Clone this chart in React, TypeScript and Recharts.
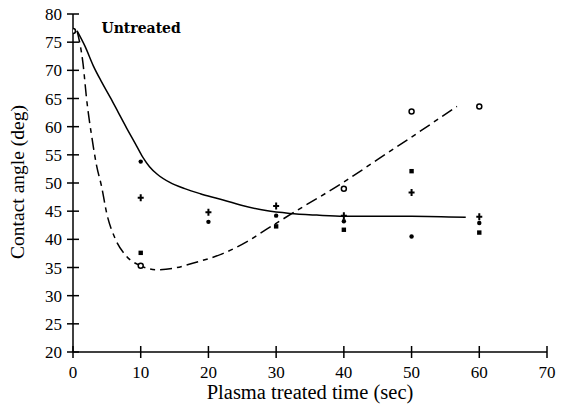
import { ComposedChart, Line, Scatter, XAxis, YAxis, ReferenceDot, Label } from "recharts";

// measured points
const openT = [0, 10, 40, 50, 60];
const openV = [77, 35.3, 49.0, 62.7, 63.6];
const dotT = [10, 20, 30, 40, 50, 60];
const dotV = [53.8, 43.1, 44.2, 43.2, 40.5, 42.9];
const plusT = [10, 20, 30, 40, 50, 60];
const plusV = [47.4, 44.8, 45.9, 44.2, 48.3, 44.0];
const squareT = [10, 30, 40, 50, 60];
const squareV = [37.6, 42.3, 41.7, 52.1, 41.2];

// fitted curves
const solidT = [0.6, 1.8, 3, 4.2, 5.5, 6.7, 7.9, 9.2, 10.3, 11.3, 12.4, 14.3, 16.5, 18.8, 21.5, 25, 28.5, 32, 36, 40, 45, 50, 58];
const solidV = [77, 74.2, 70.8, 68, 65.2, 62.5, 59.8, 57, 54.6, 52.9, 51.6, 50.1, 49, 48.1, 47.2, 46, 45.1, 44.6, 44.3, 44.1, 44.1, 44.1, 43.9];
const dashT = [0.6, 1.5, 2, 2.8, 3.5, 4.2, 5, 6.2, 7.9, 10, 12.4, 15, 17.8, 22.2, 25.7, 28.6, 34, 39.4, 44.9, 49.8, 56.7];
const dashV = [77, 71, 65, 58, 53, 49.5, 44.5, 40.2, 37, 35.3, 34.6, 34.9, 35.8, 37.5, 39.6, 41.8, 45.8, 49.7, 54.1, 58, 63.6];

const xTicks = [0, 10, 20, 30, 40, 50, 60, 70];
const yTicks = [20, 25, 30, 35, 40, 45, 50, 55, 60, 65, 70, 75, 80];

const toRows = (t: number[], v: number[]) => t.map((x, i) => ({ t: x, v: v[i] }));

const FONT = "'Liberation Serif', serif";

function XTick({ x, y, payload }: any) {
  return (
    <g>
      <line x1={x} x2={x} y1={y - 6} y2={y + 6} stroke="#000" strokeWidth={1.5} />
      <text x={x} y={y + 26} textAnchor="middle" fontFamily={FONT} fontSize={17} fill="#000">
        {payload.value}
      </text>
    </g>
  );
}

function YTick({ x, y, payload }: any) {
  return (
    <g>
      <line x1={x - 6} x2={x + 6} y1={y} y2={y} stroke="#000" strokeWidth={1.5} />
      <text x={x - 11} y={y + 6} textAnchor="end" fontFamily={FONT} fontSize={17} fill="#000">
        {payload.value}
      </text>
    </g>
  );
}

const OpenMark = ({ cx, cy }: any) => <circle cx={cx} cy={cy} r={2.5} fill="#fff" stroke="#000" strokeWidth={1.5} />;
const DotMark = ({ cx, cy }: any) => <circle cx={cx} cy={cy} r={2.2} fill="#000" />;
const PlusMark = ({ cx, cy }: any) => (
  <path d={`M${cx - 3},${cy}H${cx + 3}M${cx},${cy - 3.5}V${cy + 3.5}`} stroke="#000" strokeWidth={2} />
);
const SquareMark = ({ cx, cy }: any) => <rect x={cx - 2.2} y={cy - 2.2} width={4.4} height={4.4} fill="#000" />;

export default function App() {
  return (
    <div style={{ position: "absolute", left: 0, top: 0, width: 561, height: 413, background: "#fff" }}>
      <ComposedChart width={561} height={413} margin={{ top: 14, right: 14, bottom: 0, left: 0 }}>
        <XAxis
          type="number"
          dataKey="t"
          domain={[0, 70]}
          ticks={xTicks}
          allowDataOverflow
          tickSize={0}
          tickMargin={0}
          tickLine={false}
          tick={<XTick />}
          height={61}
          axisLine={{ stroke: "#000", strokeWidth: 1.5 }}
        >
          <Label
            content={({ viewBox }: any) => (
              <text x={viewBox.x + viewBox.width / 2} y={399} textAnchor="middle" fontFamily={FONT} fontSize={20.5} fill="#000">
                Plasma treated time (sec)
              </text>
            )}
          />
        </XAxis>
        <YAxis
          type="number"
          domain={[20, 80]}
          ticks={yTicks}
          allowDataOverflow
          width={73}
          tickSize={0}
          tickMargin={0}
          tickLine={false}
          tick={<YTick />}
          axisLine={{ stroke: "#000", strokeWidth: 1.5 }}
        >
          <Label
            content={() => (
              <text x={24} y={182} transform="rotate(-90 24 182)" textAnchor="middle" fontFamily={FONT} fontSize={19.5} fill="#000">
                Contact angle (deg)
              </text>
            )}
          />
        </YAxis>
        <Line data={toRows(solidT, solidV)} dataKey="v" type="monotone" stroke="#000" strokeWidth={1.5} dot={false} isAnimationActive={false} />
        <Line data={toRows(dashT, dashV)} dataKey="v" type="monotone" stroke="#000" strokeWidth={1.5} strokeDasharray="12 5 5 5" dot={false} isAnimationActive={false} />
        <Scatter data={toRows(openT, openV)} dataKey="v" shape={<OpenMark />} isAnimationActive={false} />
        <Scatter data={toRows(dotT, dotV)} dataKey="v" shape={<DotMark />} isAnimationActive={false} />
        <Scatter data={toRows(plusT, plusV)} dataKey="v" shape={<PlusMark />} isAnimationActive={false} />
        <Scatter data={toRows(squareT, squareV)} dataKey="v" shape={<SquareMark />} isAnimationActive={false} />
        <ReferenceDot
          x={4.2}
          y={77.5}
          r={0}
          ifOverflow="visible"
          label={{ value: "Untreated", position: "right", offset: 0, fontFamily: "'DejaVu Serif', serif", fontSize: 14, fontWeight: "bold", fill: "#000" }}
        />
      </ComposedChart>
    </div>
  );
}
